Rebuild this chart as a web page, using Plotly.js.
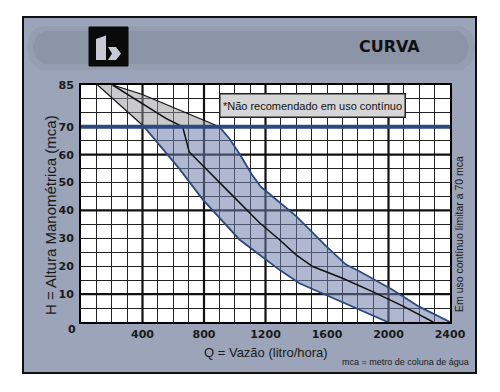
<!DOCTYPE html>
<html>
<head>
<meta charset="utf-8">
<script src="https://cdn.plot.ly/plotly-3.0.1.min.js"></script>
<style>html,body{margin:0;padding:0;background:#fff;}#chart{width:500px;height:392px;}</style>
</head>
<body>
<div id="chart"></div>
<script>
// ---- data ----
const lowerQ  = [108, 411, 530, 639, 791, 965, 1030, 1161, 1291, 1420, 1594, 1766, 1994];
const lowerH  = [85, 70, 62.2, 55, 44, 33.3, 29.6, 24.1, 18.7, 13.9, 9.7, 5.5, 0];
const middleQ = [206, 552, 661, 704, 965, 1161, 1291, 1399, 1507, 1701, 1896, 2091, 2290];
const middleH = [85, 73, 70, 61, 46.5, 35.6, 29.5, 24.1, 19.9, 15.7, 10.9, 5.8, 0];
const upperQ  = [206, 395, 900, 965, 1040, 1110, 1170, 1260, 1399, 1594, 1723, 1810, 2026, 2199, 2400];
const upperH  = [85, 81.7, 70, 65.8, 59.5, 53, 48.5, 44.5, 38, 27.2, 20.6, 18.2, 11.6, 5.5, 0];
const limitH  = 70;
const xTicks  = [400, 800, 1200, 1600, 2000, 2400];
const yTicks  = [10, 20, 30, 40, 50, 60, 70, 85];
const thickQ  = [400, 800, 1200, 2000];
const thickH  = [10, 40, 60];

// ---- helpers ----
const px = x => (x - 81) / 369;
const py = y => (322 - y) / 237;
function part(Q, Hs, test) {
  const q = [], h = [];
  Q.forEach((v, i) => { if (test(Hs[i])) { q.push(v); h.push(Hs[i]); } });
  return {q, h};
}
const above = h => h >= limitH, below = h => h <= limitH;
const loA = part(lowerQ, lowerH, above), upA = part(upperQ, upperH, above);
const loB = part(lowerQ, lowerH, below), upB = part(upperQ, upperH, below);

const BLUE = '#2d4a7f';
const SANS = "'Liberation Sans', Arial, sans-serif";
const BOLD = "'DejaVu Sans', sans-serif";

const traces = [
  {x: loA.q.concat(upA.q.slice().reverse()), y: loA.h.concat(upA.h.slice().reverse()),
   fill: 'toself', fillcolor: 'rgba(150,150,156,0.5)', line: {width: 0}, mode: 'lines', hoverinfo: 'skip'},
  {x: loB.q.concat(upB.q.slice().reverse()), y: loB.h.concat(upB.h.slice().reverse()),
   fill: 'toself', fillcolor: 'rgba(110,125,170,0.55)', line: {width: 0}, mode: 'lines', hoverinfo: 'skip'},
  {x: loA.q, y: loA.h, mode: 'lines', line: {color: '#111', width: 1.2}},
  {x: upA.q, y: upA.h, mode: 'lines', line: {color: '#111', width: 1.2}},
  {x: loB.q, y: loB.h, mode: 'lines', line: {color: BLUE, width: 1.8}},
  {x: upB.q, y: upB.h, mode: 'lines', line: {color: BLUE, width: 1.8}},
  {x: middleQ, y: middleH, mode: 'lines', line: {color: '#111', width: 1.5}}
];

function P(pts) { return 'M' + pts.map(p => px(p[0]) + ',' + py(p[1])).join(' L') + ' Z'; }

const shapes = [
  {type: 'rect', xref: 'paper', yref: 'paper', x0: px(23), x1: px(476), y0: py(373), y1: py(17),
   fillcolor: '#9ba4b8', line: {color: '#111', width: 2}, layer: 'below'},
  {type: 'path', xref: 'paper', yref: 'paper', layer: 'below', line: {width: 0}, fillcolor: 'rgba(120,128,146,0.18)',
   path: P([[40,26],[462,26],[472,33],[475,47],[472,62],[462,70],[40,70],[30,62],[27,47],[30,33]])},
  {type: 'path', xref: 'paper', yref: 'paper', layer: 'below', line: {width: 0}, fillcolor: 'rgba(120,128,146,0.3)',
   path: P([[44,31],[458,31],[466,37],[469,47],[466,58],[458,64],[44,64],[36,58],[33,47],[36,37]])},
  {type: 'rect', xref: 'paper', yref: 'paper', x0: 0, x1: 1, y0: 0, y1: 1, fillcolor: '#ffffff', line: {width: 0}, layer: 'below'},
  {type: 'rect', xref: 'paper', yref: 'paper', x0: px(89), x1: px(128), y0: py(66), y1: py(27),
   fillcolor: '#0a0a0a', line: {color: '#0a0a0a', width: 1}, layer: 'below'},
  {type: 'path', xref: 'paper', yref: 'paper', layer: 'below', line: {width: 0}, fillcolor: '#c6cad6',
   path: P([[96,39],[106,35.5],[106,60],[96,60]])},
  {type: 'path', xref: 'paper', yref: 'paper', layer: 'below', line: {width: 0}, fillcolor: '#c6cad6',
   path: P([[108,47],[116,47],[121,53.5],[116,60],[108,60],[112,53.5]])}
];
thickQ.forEach(q => shapes.push({type: 'line', xref: 'x', yref: 'y', x0: q, x1: q, y0: 0, y1: 85,
  line: {color: '#111', width: 2.2}, layer: 'between'}));
thickH.forEach(h => shapes.push({type: 'line', xref: 'x', yref: 'y', x0: 0, x1: 2400, y0: h, y1: h,
  line: {color: '#111', width: 2.2}, layer: 'between'}));
shapes.push({type: 'line', xref: 'x', yref: 'y', x0: 0, x1: 2400, y0: limitH, y1: limitH,
  line: {color: BLUE, width: 4}, layer: 'above'});

const ann = (text, x, y, font, extra) => Object.assign({text, x: px(x), y: py(y), xref: 'paper', yref: 'paper',
  showarrow: false, xanchor: 'center', yanchor: 'middle', font}, extra || {});

const annotations = [
  ann('H = Altura Manométrica (mca)', 50, 215, {family: SANS, size: 15, color: '#1a1a1a'}, {textangle: -90}),
  ann('Q = Vazão (litro/hora)', 266, 352, {family: SANS, size: 13, color: '#1a1a1a'}),
  ann('mca = metro de coluna de água', 405, 362, {family: SANS, size: 9, color: '#1a1a1a'}),
  ann('Em uso contínuo limitar a 70 mca', 459, 234, {family: SANS, size: 10.5, color: '#1a1a1a'}, {textangle: -90}),
  ann('CURVA', 389, 47, {family: BOLD, size: 16, color: '#111', weight: 'bold'}),
  ann('0', 72, 329, {family: BOLD, size: 11, color: '#1a1a1a', weight: 'bold'}),
  ann('*Não recomendado em uso contínuo', 312, 105.3, {family: SANS, size: 11, color: '#111'},
      {bgcolor: '#d6d6d6', bordercolor: '#222', borderwidth: 1.5, borderpad: 1, width: 182, height: 20})
];

const tickfont = {family: BOLD, size: 11, color: '#1a1a1a', weight: 'bold'};
const layout = {
  width: 500, height: 392,
  margin: {l: 81, r: 50, t: 85, b: 70, pad: 0},
  paper_bgcolor: '#ffffff', plot_bgcolor: '#ffffff',
  showlegend: false,
  xaxis: {range: [0, 2400], tickvals: xTicks, ticktext: xTicks.map(String), ticks: '', ticklabelstandoff: 1,
    showgrid: true, gridcolor: '#222', gridwidth: 1,
    minor: {dtick: 100, tick0: 0, showgrid: true, gridcolor: '#222', gridwidth: 1, ticks: ''},
    showline: true, mirror: true, linecolor: '#000', linewidth: 2, zeroline: false, tickfont, fixedrange: true},
  yaxis: {range: [0, 85], tickvals: yTicks, ticktext: yTicks.map(String), ticks: '', ticklabelstandoff: 3,
    showgrid: true, gridcolor: '#222', gridwidth: 1,
    minor: {dtick: 5, tick0: 0, showgrid: true, gridcolor: '#222', gridwidth: 1, ticks: ''},
    showline: true, mirror: true, linecolor: '#000', linewidth: 2, zeroline: false, tickfont, fixedrange: true},
  shapes, annotations
};

Plotly.newPlot('chart', traces, layout, {staticPlot: true, displayModeBar: false});
</script>
</body>
</html>
